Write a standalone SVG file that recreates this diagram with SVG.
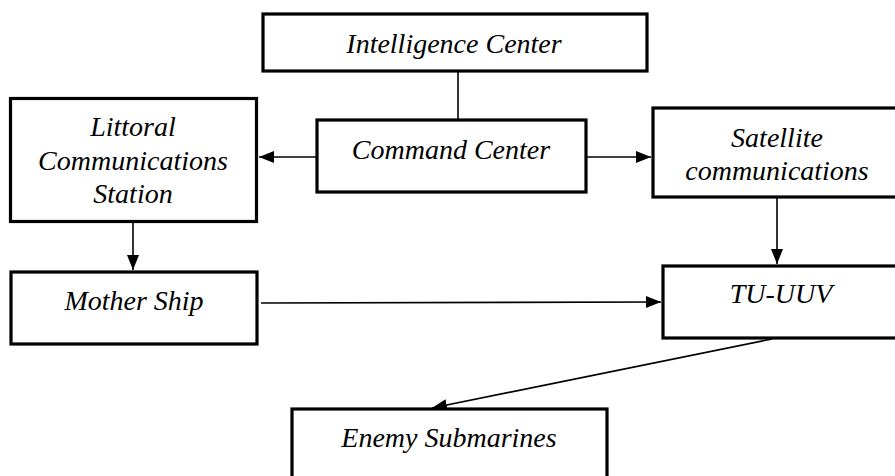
<svg xmlns="http://www.w3.org/2000/svg" width="895" height="476" viewBox="0 0 895 476">
<style>
.box{fill:#fff;stroke:#000;stroke-width:3.2}
.t{font-family:'Liberation Serif','Times New Roman',serif;font-style:italic;font-size:28px;fill:#000;text-anchor:middle}
.conn{stroke:#000;stroke-width:1.6;fill:none}
</style>
<defs>
<marker id="ah" markerUnits="userSpaceOnUse" markerWidth="16" markerHeight="14" refX="15" refY="7" orient="auto">
<path d="M0,1 L15,7 L0,13 Z" fill="#000"/>
</marker>
</defs>
<rect width="895" height="476" fill="#fff"/>
<g id="connectors">
<line class="conn" x1="458" y1="72" x2="458" y2="119"/>
<line class="conn" x1="316" y1="157" x2="259" y2="157" marker-end="url(#ah)"/>
<line class="conn" x1="587" y1="157" x2="651" y2="157" marker-end="url(#ah)"/>
<line class="conn" x1="133" y1="223" x2="133" y2="270" marker-end="url(#ah)"/>
<line class="conn" x1="777" y1="198" x2="777" y2="264" marker-end="url(#ah)"/>
<line class="conn" x1="261" y1="303" x2="661" y2="302" marker-end="url(#ah)"/>
<line class="conn" x1="772" y1="339" x2="432" y2="408" marker-end="url(#ah)"/>
</g>
<g id="intelligence-center">
<rect class="box" x="263" y="14" width="384" height="57"/>
<text class="t" x="454" y="53">Intelligence Center</text>
</g>
<g id="command-center">
<rect class="box" x="317" y="120" width="269" height="72"/>
<text class="t" x="451" y="159">Command Center</text>
</g>
<g id="littoral">
<rect class="box" x="10.5" y="98.5" width="246" height="123"/>
<text class="t" x="133" y="136">Littoral</text>
<text class="t" x="133" y="170">Communications</text>
<text class="t" x="133" y="203">Station</text>
</g>
<g id="satellite">
<rect class="box" x="653" y="108" width="250" height="89"/>
<text class="t" x="777" y="147">Satellite</text>
<text class="t" x="777" y="180">communications</text>
</g>
<g id="mother-ship">
<rect class="box" x="11" y="272" width="246" height="72"/>
<text class="t" x="134" y="310">Mother Ship</text>
</g>
<g id="tu-uuv">
<rect class="box" x="663" y="266" width="240" height="72"/>
<text class="t" x="781" y="303">TU-UUV</text>
</g>
<g id="enemy-submarines">
<rect class="box" x="292" y="409" width="315" height="80"/>
<text class="t" x="449" y="447">Enemy Submarines</text>
</g>
</svg>
